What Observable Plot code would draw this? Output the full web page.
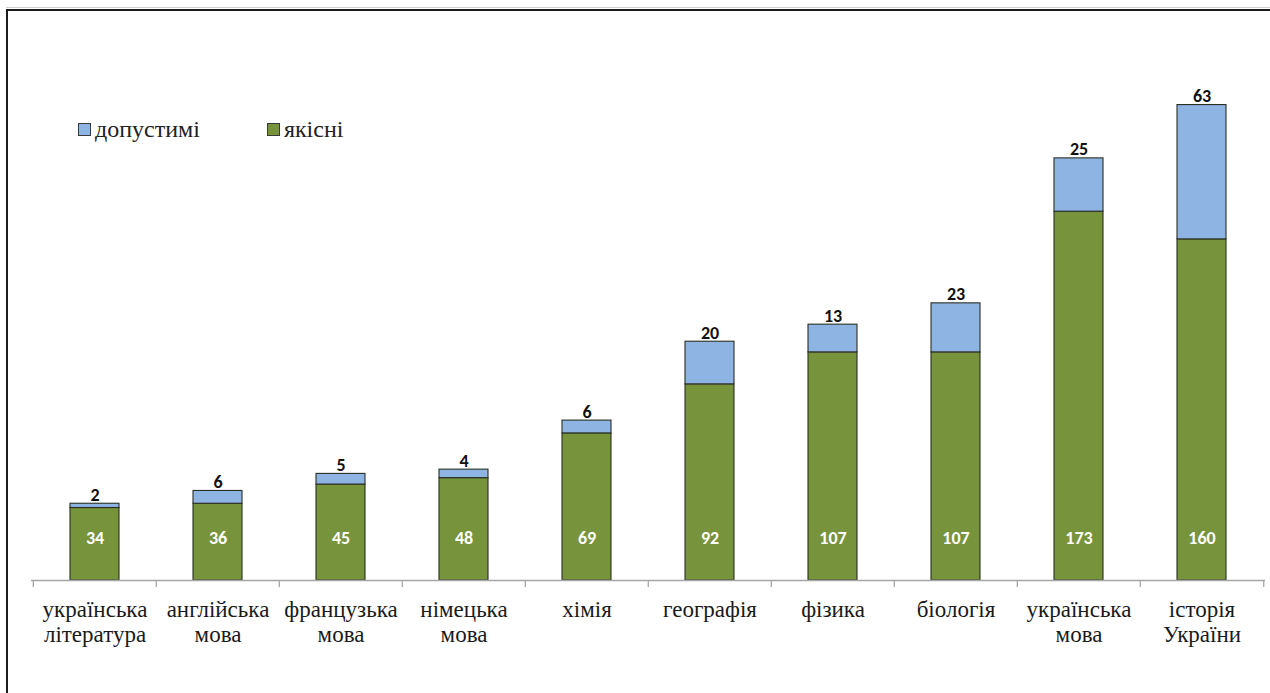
<!DOCTYPE html>
<html>
<head>
<meta charset="utf-8">
<script src="https://cdn.jsdelivr.net/npm/d3@7"></script>
<script src="https://cdn.jsdelivr.net/npm/@observablehq/plot@0.6"></script>
<style>
  html, body { margin: 0; padding: 0; background: #fff; }
  #wrap { position: relative; width: 1270px; height: 693px; overflow: hidden; background: #fff; }
  #topline { position: absolute; left: 6px; top: 7px; width: 1300px; height: 1px; background: #d0d0d0; }
  #frame { position: absolute; left: 6px; top: 9px; width: 1300px; height: 800px; border: 2px solid #1c1c1c; box-sizing: border-box; }
  #chart { position: absolute; left: 0; top: 0; }
  #legend { position: absolute; left: 78px; top: 114px; font-family: "Liberation Serif", "Times New Roman", serif; font-size: 24px; color: #222; display: flex; }
  .item { display: flex; align-items: center; height: 30px; }
  .sw { width: 11px; height: 11px; border: 1px solid #3a3a3a; margin-right: 4px; }
</style>
</head>
<body>
<div id="wrap">
  <div id="topline"></div>
  <div id="frame"></div>
  <div id="chart"></div>
  <div id="legend"></div>
</div>
<script>
const categories = ["українська\nлітература", "англійська\nмова", "французька\nмова", "німецька\nмова", "хімія", "географія", "фізика", "біологія", "українська\nмова", "історія\nУкраїни"];
const quality = [34, 36, 45, 48, 69, 92, 107, 107, 173, 160];      // якісні
const permissible = [2, 6, 5, 4, 6, 20, 13, 23, 25, 63];           // допустимі
const seriesNames = ["якісні", "допустимі"];
const seriesColors = ["#77933C", "#8EB4E3"];
const legendOrder = ["допустимі", "якісні"];

const W = 1270, H = 693;
const marginLeft = 31, marginRight = 5, marginBottom = 113, marginTop = 47;
const step = (W - marginLeft - marginRight) / categories.length;
const serif = "'Liberation Serif', 'Times New Roman', serif";
const numFont = "Carlito, Lato, sans-serif";

const rows = [];
categories.forEach((c, i) => {
  rows.push({cat: c, series: seriesNames[0], value: quality[i]});
  rows.push({cat: c, series: seriesNames[1], value: permissible[i]});
});
const totals = categories.map((c, i) => ({cat: c, q: quality[i], p: permissible[i], total: quality[i] + permissible[i]}));

const plot = Plot.plot({
  width: W,
  height: H,
  marginLeft, marginRight, marginTop, marginBottom,
  x: {domain: categories, paddingInner: 0.6, paddingOuter: 0.3, axis: null},
  y: {domain: [0, 250], axis: null},
  color: {domain: seriesNames, range: seriesColors},
  style: {background: "transparent", overflow: "visible", fontFamily: serif},
  marks: [
    Plot.barY(rows, {x: "cat", y: "value", fill: "series", stroke: "#2a2f22", strokeWidth: 1.1, order: seriesNames}),
    Plot.ruleY([0], {stroke: "#a6a6a6", strokeWidth: 1.3}),
    Plot.ruleX(categories, {x: d => d, y1: 0, y2: 0, dx: -step / 2, insetBottom: -7, stroke: "#a6a6a6", strokeWidth: 1.3}),
    Plot.ruleX(categories.slice(-1), {x: d => d, y1: 0, y2: 0, dx: step / 2, insetBottom: -7, stroke: "#a6a6a6", strokeWidth: 1.3}),
    Plot.text(totals, {x: "cat", y: "total", text: d => String(d.p), lineAnchor: "bottom", dy: -3, fill: "#111", fontWeight: "bold", fontSize: 18, fontFamily: numFont}),
    Plot.text(totals, {x: "cat", y: 0, text: d => String(d.q), dy: -42, fill: "#ffffff", fontWeight: "bold", fontSize: 18, fontFamily: numFont}),
    Plot.text(categories, {x: d => d, y: 0, text: d => d, lineAnchor: "top", dy: 19, lineHeight: 1.09, fill: "#1a1a1a", fontSize: 23, fontFamily: serif})
  ]
});
document.getElementById("chart").appendChild(plot);

const legend = document.getElementById("legend");
legendOrder.forEach((name, i) => {
  const item = document.createElement("div");
  item.className = "item";
  if (i > 0) item.style.marginLeft = "67px";
  const sw = document.createElement("div");
  sw.className = "sw";
  sw.style.background = seriesColors[seriesNames.indexOf(name)];
  const lbl = document.createElement("span");
  lbl.textContent = name;
  item.appendChild(sw);
  item.appendChild(lbl);
  legend.appendChild(item);
});
</script>
</body>
</html>
